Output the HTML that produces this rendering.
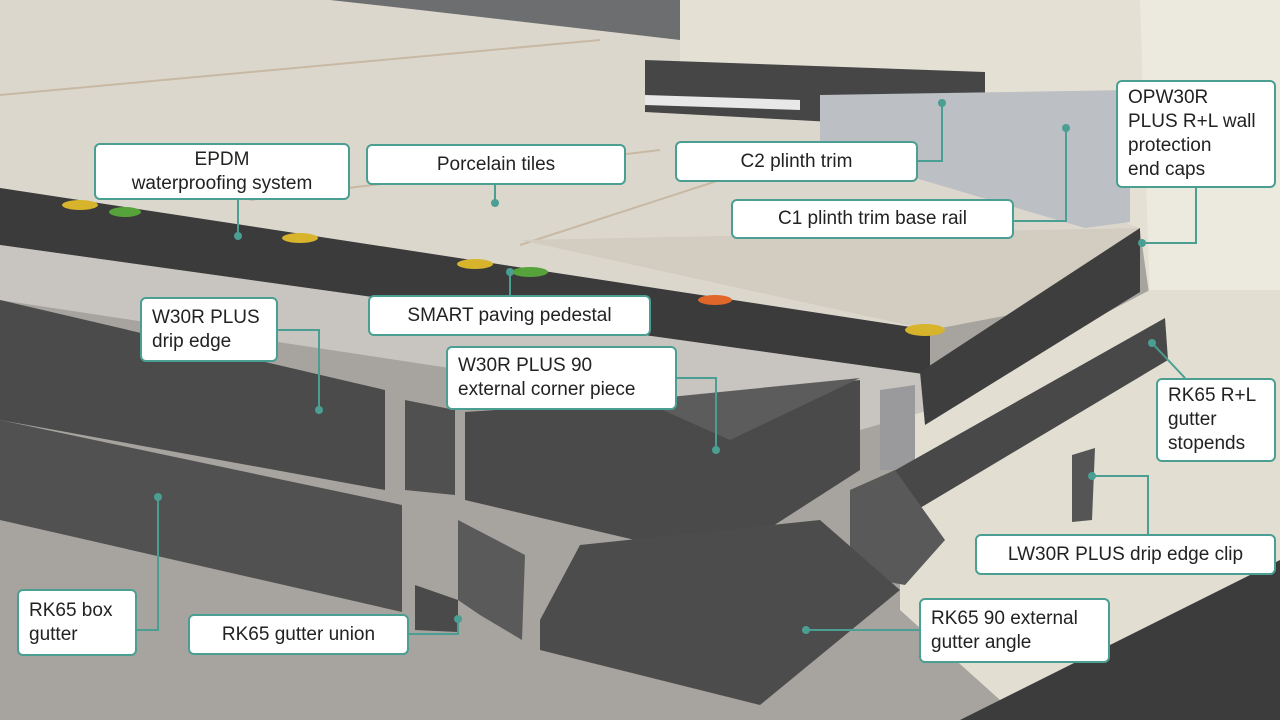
<!DOCTYPE html>
<html><head><meta charset="utf-8"><style>
html,body{margin:0;padding:0;width:1280px;height:720px;overflow:hidden;background:#a7a49f;font-family:"Liberation Sans",sans-serif}
.l{position:absolute;background:#fff;border:2px solid #4a9e92;border-radius:6px;box-sizing:border-box;color:#222;font-size:19px;line-height:24px;text-align:center;display:flex;align-items:center;justify-content:center;padding:0 6px}
.l.left{justify-content:flex-start;text-align:left;padding-left:10px}
svg{position:absolute;left:0;top:0}
</style></head><body>
<svg width="1280" height="720" viewBox="0 0 1280 720">
<rect width="1280" height="720" fill="#a7a49f"/>
<!-- wall -->
<polygon points="660,0 1280,0 1280,720 1150,720 1150,300 1140,230 660,60" fill="#e4e0d4"/>
<polygon points="1140,0 1280,0 1280,560 1190,480 1150,300" fill="#ece9de"/>
<polygon points="900,420 1150,290 1280,290 1280,580 1000,700 900,610" fill="#e2ded2"/>
<!-- tiles -->
<polygon points="0,0 680,0 680,62 1140,228 1140,290 930,330 0,188" fill="#dcd7cd"/>
<polygon points="330,0 680,0 680,40 420,10" fill="#6d6e70"/>
<line x1="0" y1="95" x2="600" y2="40" stroke="#c8b9a4" stroke-width="2"/>
<line x1="250" y1="200" x2="660" y2="150" stroke="#c8b9a4" stroke-width="2"/>
<line x1="520" y1="245" x2="720" y2="180" stroke="#c8b9a4" stroke-width="2"/>
<!-- EPDM -->
<polygon points="0,188 930,330 930,375 0,245" fill="#3b3b3c"/>
<polygon points="520,240 1140,228 1140,290 930,330" fill="#d3ccc0"/>
<!-- light drip area -->
<polygon points="0,245 930,375 930,410 860,430 0,300" fill="#c8c5c0"/>
<!-- drip edge profiles -->
<polygon points="0,300 385,390 385,490 0,420" fill="#4b4b4c"/>
<polygon points="0,420 402,505 402,612 0,520" fill="#515152"/>
<polygon points="405,400 455,410 455,495 405,490" fill="#505051"/>
<!-- corner piece -->
<polygon points="465,412 730,395 860,380 860,470 720,560 465,500" fill="#4a4a4b"/>
<polygon points="640,400 860,378 730,440" fill="#5c5c5d"/>
<!-- right long drip edge -->
<polygon points="920,372 1140,228 1140,292 925,425" fill="#3e3e3f"/>
<polygon points="880,390 915,385 915,470 880,470" fill="#9a9a9c"/>
<!-- right gutter -->
<polygon points="892,472 1165,318 1168,360 900,520" fill="#484849"/>
<polygon points="850,490 895,470 945,540 905,585 850,575" fill="#59595a"/>
<!-- clip -->
<polygon points="1072,455 1095,448 1092,520 1072,522" fill="#555"/>
<!-- bottom right -->
<polygon points="960,720 1280,560 1280,720" fill="#3c3c3d"/>
<!-- gutter angle -->
<polygon points="580,545 820,520 900,590 760,705 540,650 540,620" fill="#4c4c4d"/>
<!-- gutter union -->
<polygon points="458,520 525,555 522,640 480,615 458,600" fill="#5a5a5b"/>
<polygon points="415,585 458,600 458,632 415,630" fill="#4a4a4a"/>
<!-- plinth trim + rail -->
<polygon points="645,60 985,72 985,130 645,112" fill="#464647"/>
<polygon points="645,95 800,100 800,110 645,105" fill="#e8e8e8"/>
<polygon points="820,95 1130,90 1130,222 1085,228 820,150" fill="#bcbfc3"/>
<!-- pedestals -->
<g fill="#d7b42c"><ellipse cx="80" cy="205" rx="18" ry="5"/><ellipse cx="300" cy="238" rx="18" ry="5"/><ellipse cx="475" cy="264" rx="18" ry="5"/><ellipse cx="925" cy="330" rx="20" ry="6"/></g>
<g fill="#57a33b"><ellipse cx="125" cy="212" rx="16" ry="5"/><ellipse cx="530" cy="272" rx="18" ry="5"/></g>
<ellipse cx="715" cy="300" rx="17" ry="5" fill="#e0662a"/>
<!-- leaders -->
<g stroke="#4a9e92" stroke-width="2" fill="none">
<polyline points="238,200 238,236"/><polyline points="495,185 495,203"/>
<polyline points="918,161 942,161 942,103"/><polyline points="1014,221 1066,221 1066,128"/>
<polyline points="1196,188 1196,243 1142,243"/><polyline points="510,295 510,272"/>
<polyline points="278,330 319,330 319,410"/><polyline points="677,378 716,378 716,450"/>
<polyline points="1152,343 1185,378"/><polyline points="1148,534 1148,476 1092,476"/>
<polyline points="137,630 158,630 158,497"/><polyline points="409,634 458,634 458,619"/>
<polyline points="919,630 806,630"/>
</g>
<g fill="#4a9e92">
<circle cx="238" cy="236" r="4"/><circle cx="495" cy="203" r="4"/><circle cx="942" cy="103" r="4"/><circle cx="1066" cy="128" r="4"/><circle cx="1142" cy="243" r="4"/><circle cx="510" cy="272" r="4"/><circle cx="319" cy="410" r="4"/><circle cx="716" cy="450" r="4"/><circle cx="1152" cy="343" r="4"/><circle cx="1092" cy="476" r="4"/><circle cx="158" cy="497" r="4"/><circle cx="458" cy="619" r="4"/><circle cx="806" cy="630" r="4"/>
</g>
</svg>
<div class="l" style="left:94px;top:143px;width:256px;height:57px">EPDM<br>waterproofing system</div>
<div class="l" style="left:366px;top:144px;width:260px;height:41px">Porcelain tiles</div>
<div class="l" style="left:675px;top:141px;width:243px;height:41px">C2 plinth trim</div>
<div class="l" style="left:731px;top:199px;width:283px;height:40px">C1 plinth trim base rail</div>
<div class="l left" style="left:1116px;top:80px;width:160px;height:108px">OPW30R<br>PLUS R+L wall<br>protection<br>end caps</div>
<div class="l" style="left:368px;top:295px;width:283px;height:41px">SMART paving pedestal</div>
<div class="l left" style="left:140px;top:297px;width:138px;height:65px">W30R PLUS<br>drip edge</div>
<div class="l left" style="left:446px;top:346px;width:231px;height:64px">W30R PLUS 90<br>external corner piece</div>
<div class="l left" style="left:1156px;top:378px;width:120px;height:84px">RK65 R+L<br>gutter<br>stopends</div>
<div class="l" style="left:975px;top:534px;width:301px;height:41px">LW30R PLUS drip edge clip</div>
<div class="l left" style="left:17px;top:589px;width:120px;height:67px">RK65 box<br>gutter</div>
<div class="l" style="left:188px;top:614px;width:221px;height:41px">RK65 gutter union</div>
<div class="l left" style="left:919px;top:598px;width:191px;height:65px">RK65 90 external<br>gutter angle</div>
</body></html>
